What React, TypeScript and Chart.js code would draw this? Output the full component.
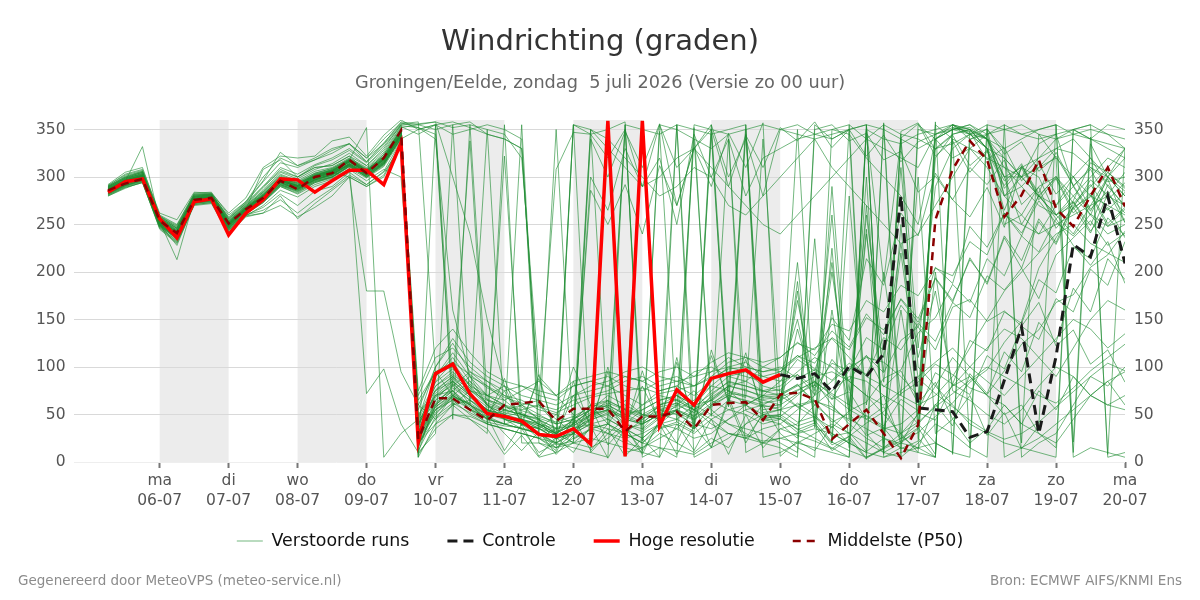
import React, { useEffect, useRef } from 'react';
import { Chart, registerables } from 'chart.js';

Chart.register(...registerables);
Chart.defaults.font.family = 'DejaVu Sans';

// Forecast steps: hours relative to maandag 06-07 00:00, every 6 hours
const forecastHours = [
  -18, -12, -6, 0, 6, 12, 18, 24, 30, 36, 42, 48, 54, 60, 66, 72, 78, 84, 90, 96,
  102, 108, 114, 120, 126, 132, 138, 144, 150, 156, 162, 168, 174, 180, 186, 192, 198, 204, 210, 216,
  222, 228, 234, 240, 246, 252, 258, 264, 270, 276, 282, 288, 294, 300, 306, 312, 318, 324, 330, 336,
];

// Day ticks along the time axis
const dayTicks = [0, 24, 48, 72, 96, 120, 144, 168, 192, 216, 240, 264, 288, 312, 336];
const weekdays = ['ma', 'di', 'wo', 'do', 'vr', 'za', 'zo', 'ma', 'di', 'wo', 'do', 'vr', 'za', 'zo', 'ma'];
const dates = ['06-07', '07-07', '08-07', '09-07', '10-07', '11-07', '12-07', '13-07', '14-07', '15-07', '16-07', '17-07', '18-07', '19-07', '20-07'];

// Direction ticks (degrees)
const directionTicks = [0, 50, 100, 150, 200, 250, 300, 350];

// Alternate days with a grey background (hours)
const shadedDays = [[0, 24], [48, 72], [96, 120], [144, 168], [192, 216], [240, 264], [288, 312]];

// High resolution run (stops after 15-07 00:00)
const highResolution = [
  284, 295, 298, 256, 236, 274, 277, 239, 262, 276, 298, 297, 284, 296, 307, 307, 292, 336, 21, 93,
  103, 72, 51, 48, 43, 29, 27, 35, 19, 359, 6, 359, 38, 76, 60, 88, 93, 97, 84, 92,
];

// Ensemble median
const medianP50 = [
  286, 293, 298, 254, 241, 276, 278, 251, 266, 278, 296, 287, 300, 304, 318, 304, 320, 349, 24, 67,
  67, 55, 44, 60, 62, 64, 43, 56, 56, 56, 32, 48, 48, 53, 35, 60, 62, 63, 44, 71,
  73, 66, 24, 40, 55, 30, 4, 39, 255, 308, 338, 318, 258, 281, 318, 267, 248, 280, 310, 269,
];

// Control run, shown from step 39 (15-07 00:00) onwards
const controlStartStep = 39;
const controlRun = [92, 88, 93, 74, 101, 90, 114, 280, 57, 55, 53, 26, 32, 86, 142, 30, 111, 229, 216, 280, 209];

// Perturbed ensemble members
const perturbedRuns: number[][] = [
  [288,297,303,255,243,279,280,252,268,282,298,292,303,307,318,308,322,350, 30,75,90,70,55,48,52,40,30,45,60,58,40,35,55,62,48,70,85,80,75, 70,82,60,45,30,55,70,20,35,330,345,350,330,265,310,300,260,275,315,305,290],
  [283,292,298,248,236,274,276,246,263,275,292,286,296,300,312,300,314,340, 15,90,110,85,60,45,40,35,25,30,50,65,30,20,40,55,35,60,75,70,65, 60,180,40,225,15,350,190,340,120,290,330,345,350,280,300,335,345,290,260,300,330],
  [290,300,305,258,246,281,282,256,272,290,306,300,310,312,322,312,330,355, 5,40,60,75,70,80,60,45,20,355,350,340,10,15,30,20,10,25,15,40,60, 30,15,5,350,345,320,300,280,250,340,355,345,330,300,250,280,260,240,270,300,280],
  [280,288,295,245,230,270,272,240,258,262,270,258,268,280,300,290,300,335, 45,100,125,95,80,70,65,55,50,70,75,80,90,85,75,80,95,100,90,85,100, 95,112,98,86,104,92,131,118,146,127,168,152,196,181,204,172,218,236,254,228,241],
  [292,305,310,260,250,283,284,260,274,300,320,312,320,330,335,320,335,358, 355,350,355,358,345,340,330,60,45,30,20,40,65,50,45,60,75,55,40,35,30, 20,10,355,340,350,5,15,25,40,60,80,90,70,50,60,30,15,350,340,355,350],
  [285,294,300,252,238,276,278,248,265,278,294,288,298,302,315,304,318,346, 20,55,65,50,40,35,30,25,15,20,35,40,25,10,355,350,340,330,345,10,20, 15,5,350,355,338,346,318,327,284,301,276,310,292,318,271,289,246,268,297,281,305],
  [287,296,301,254,242,277,279,251,266,279,297,294,301,308,316,306,319,344, 35,70,80,65,50,30,12,32,8,28,60,18,38,8,45,20,62,15,68,25,50, 48,62,50,30,20,10,5,15,355,340,320,330,345,355,5,20,30,60,90,80,100],
  [281,290,296,250,228,272,275,244,260,265,276,262,276,288,302,292,305,330, 60,95,100,80,70,60,55,60,55,65,70,75,85,90,80,85,90,95,100,105,90, 85,92,78,104,96,131,118,165,142,205,188,248,226,262,238,281,256,274,243,268,236],
  [289,298,304,256,245,280,281,254,270,285,303,296,306,310,320,310,326,352, 355,358,352,355,350,345,320,90,70,50,35,30,20,15,25,35,55,45,30,25,20, 35,40,60,75,90,85,70,60,40,20,10,350,330,320,300,310,330,340,320,300,280],
  [284,293,299,251,235,275,277,249,264,276,293,287,297,303,314,303,316,343, 10,65,85,60,45,40,45,38,28,35,50,55,45,40,60,65,55,75,90,95,80, 75,58,47,36,54,63,88,97,136,152,187,168,214,196,238,221,256,228,207,232,188],
  [286,295,332,253,213,276,278,250,266,308,318,300,310,312,322,306,324,349, 25,50,70,60,45,55,60,50,40,45,55,45,35,40,50,45,60,65,55,60,70, 65,170,80,210,60,245,30,160,50,80,110,90,70,60,40,30,20,45,70,60,55],
  [282,291,297,249,234,273,274,245,261,273,290,283,294,299,311,300,312,342, 40,80,95,75,65,55,50,45,35,40,55,60,50,55,65,70,60,80,95,90,85, 90,150,70,200,75,260,110,230,110,180,80,100,120,140,130,110,90,120,150,170,160],
  [291,303,308,262,255,284,283,262,278,310,322,320,322,338,342,322,344,360, 350,355,345,350,355,350,340,20,15,30,300,265,330,290,320,250,345,300,340,280,320, 330,340,345,350,355,340,330,320,310,345,350,352,340,300,300,320,340,350,355,345,330],
  [285,296,302,253,239,277,279,249,267,281,299,289,299,306,317,305,320,347, 30,85,105,80,60,50,40,30,20,15,10,5,355,350,345,355,5,15,25,40,50, 45,35,25,15,5,355,350,340,330,340,350,355,340,300,310,320,330,325,310,295,300],
  [288,294,300,251,241,277,277,250,266,277,295,290,300,304,314,304,317,345, 20,40,50,45,35,8,28,5,10,48,12,35,6,25,5,40,12,45,8,50,15, 35,28,22,14,27,41,53,72,84,103,92,78,71,96,124,139,168,176,205,218,243],
  [280,289,294,247,232,271,273,243,259,270,286,279,290,296,308,296,308,300, 70,110,120,100,85,75,80,70,65,80,85,90,80,75,85,90,80,95,110,100,95, 100,88,97,66,74,45,58,24,36,8,352,347,318,331,296,314,282,301,266,285,252],
  [287,297,302,255,240,278,279,251,267,280,297,291,302,306,317,306,320,349, 15,60,80,95,85,70,58,45,30,355,10,30,45,60,70,65,55,40,30,25,35, 40,55,70,85,100,110,105,90,70,320,345,350,340,310,290,270,260,280,300,320,310],
  [283,291,296,249,237,274,276,247,262,274,291,285,295,300,311,300,313,341, 50,75,85,70,55,50,45,40,30,40,50,55,45,40,50,55,45,60,70,65,60, 55,60,65,55,45,35,25,15,10,5,355,345,340,320,300,280,270,290,310,300,285],
  [290,301,306,258,248,282,282,258,274,296,326,312,318,328,335,316,336,356, 358,95,70,55,48,40,35,10,20,35,40,30,25,30,40,35,25,30,45,55,60, 70,80,90,95,85,70,50,30,10,355,340,330,320,310,300,280,260,270,290,310,330],
  [286,295,301,253,241,276,278,250,266,279,296,289,299,304,316,305,318,345, 25,65,75,55,45,40,35,30,25,35,45,50,35,25,40,355,35,345,60,355,45, 50,38,44,21,12,5,14,22,31,48,62,84,97,126,148,204,236,268,279,305,288],
  [284,292,298,250,236,274,277,247,264,276,293,287,297,302,313,302,315,344, 35,90,115,90,70,65,75,85,70,80,85,80,70,60,75,80,70,85,100,95,90, 95,110,120,130,110,90,80,70,60,70,90,120,150,180,200,220,240,250,230,220,210],
  [289,299,303,257,244,279,281,253,269,284,302,295,304,309,319,309,324,351, 5,355,45,355,65,60,50,40,30,20,15,25,40,55,65,70,60,50,40,30,20, 25,20,15,10,5,350,340,335,345,350,355,350,340,330,340,350,355,345,340,335,330],
  [282,290,295,247,233,272,274,244,260,268,282,270,285,290,305,292,306,338, 55,100,130,105,90,80,70,65,60,70,80,85,95,100,90,85,80,90,105,110,100, 110,125,118,145,138,170,158,186,175,204,196,232,218,262,241,275,252,238,261,248,256],
  [288,296,302,254,242,278,280,252,267,281,299,293,302,307,317,307,321,348, 18,55,68,62,50,75,42,88,28,70,40,95,38,80,42,105,40,112,65,108,55, 58,140,75,260,45,300,20,250,40,200,75,65,50,40,55,80,100,90,70,60,70],
  [285,294,299,251,239,275,278,249,265,278,295,288,298,303,314,304,317,345, 40,70,75,60,50,48,45,40,35,38,48,55,48,40,50,55,48,62,72,70,62, 65,75,85,70,55,45,35,40,55,340,350,355,345,280,290,310,320,300,280,270,260],
  [291,302,307,259,249,282,283,257,273,295,315,310,318,325,335,320,340,357, 352,345,60,45,30,355,20,20,10,20,25,20,15,10,5,355,350,345,350,355,5, 10,20,30,40,30,20,10,5,350,345,355,350,330,260,250,240,250,260,270,280,270],
  [286,296,301,254,240,277,278,251,266,280,297,290,300,305,316,305,319,346, 28,62,78,65,52,46,43,36,24,32,44,52,40,32,46,52,44,58,70,64,58, 60,72,81,66,97,112,94,128,142,118,163,171,148,159,143,168,122,139,103,118,84],
  [283,293,298,250,237,274,276,246,262,274,291,284,294,300,311,301,313,342, 45,80,92,78,62,55,50,46,40,45,55,62,55,48,58,62,55,68,80,75,70, 72,81,64,58,43,49,38,66,54,94,82,128,117,158,146,192,178,226,214,257,238],
  [289,299,305,257,246,280,282,255,271,288,308,300,312,318,328,315,332,354, 352,340,160,90,60,45,35,30,20,30,40,35,30,20,15,5,355,350,345,350,355, 350,345,340,345,350,355,5,10,15,20,10,5,355,350,345,340,345,350,355,5,10],
  [284,293,299,251,238,275,277,248,264,277,294,287,297,302,313,302,315,343, 22,58,72,60,48,12,40,6,26,10,38,4,36,12,40,8,38,15,64,20,52, 55,42,48,27,31,11,25,19,52,44,82,71,112,98,143,129,172,158,203,186,232],
  [287,297,302,255,241,277,279,251,268,281,298,291,301,306,318,307,320,348, 32,68,82,68,54,48,44,38,28,34,46,54,350,34,48,54,46,355,74,68,340, 62,210,40,290,55,240,95,310,100,80,60,40,30,20,15,25,40,55,70,85,95],
  [282,291,296,248,235,273,275,245,261,273,290,282,292,298,309,299,311,339, 65,95,105,92,78,68,62,58,52,60,68,72,75,78,72,76,80,88,98,100,95, 98,112,104,131,118,152,139,171,147,193,168,215,187,236,204,253,229,268,241,282,262],
  [290,299,305,257,246,280,281,254,270,286,305,298,308,314,325,312,328,353, 345,355,80,338,40,322,45,30,25,40,286,250,292,240,312,270,331,290,346,310,357, 6,22,12,38,19,354,8,341,356,322,338,305,327,291,314,276,298,262,281,248,266],
  [286,295,300,253,240,276,278,250,266,279,296,290,299,304,316,305,318,345, 12,48,62,52,42,38,36,30,18,22,350,40,355,22,348,42,32,350,58,345,44, 46,31,39,12,24,3,357,27,14,61,38,93,72,116,95,147,126,183,158,214,192],
  [285,293,300,251,238,275,277,249,265,277,295,288,298,303,314,303,316,344, 38,72,88,72,58,52,48,42,32,38,50,58,46,350,52,58,340,64,78,350,66, 68,76,84,72,60,48,36,30,42,58,72,86,100,90,80,70,62,78,96,110,124],
  [288,298,303,256,243,279,280,253,268,283,300,293,303,308,319,308,322,350, 8,35,50,48,40,35,30,25,12,355,345,350,358,5,15,12,8,20,30,28,22, 25,30,35,30,20,10,355,345,340,330,335,345,355,5,15,10,5,350,340,330,320],
  [281,289,294,246,231,271,273,242,259,262,280,256,272,286,300,290,302,336, 75,120,140,115,95,85,80,75,70,85,90,95,90,85,95,100,90,105,115,110,105, 110,126,112,138,121,156,134,172,151,194,170,213,189,238,212,256,231,274,249,292,268],
  [287,296,301,254,242,277,279,251,267,280,297,291,301,306,317,306,319,347, 24,58,70,58,46,88,38,92,24,85,36,100,34,96,38,110,36,118,62,115,48, 50,190,36,160,52,270,84,220,88,72,58,44,32,24,30,42,58,74,90,104,96],
  [283,292,297,249,236,273,275,246,262,275,292,285,295,300,312,301,314,341, 48,84,98,82,66,58,54,48,42,48,58,64,56,50,60,66,58,72,84,80,74, 76,92,71,108,86,112,79,96,62,84,45,70,28,52,14,38,355,21,342,8,331],
  [290,300,306,259,247,281,282,256,272,290,310,303,313,320,330,316,334,355, 356,358,300,240,150,80,40,25,35,20,340,300,348,310,356,270,330,350,290,344,310, 352,338,358,331,350,322,344,316,337,345,352,348,340,288,309,279,301,272,292,265,284],
  [286,295,300,253,240,276,278,250,266,279,296,290,300,305,316,305,318,346, 18,52,66,56,46,40,355,32,350,24,34,358,32,345,36,42,352,48,340,54,46, 48,34,41,18,27,4,14,348,357,329,344,312,328,296,311,281,299,266,283,251,268],
  [284,294,299,252,238,275,277,248,265,277,294,288,297,303,313,303,316,344, 42,76,90,76,60,54,50,44,36,42,52,60,50,42,54,60,52,66,80,76,68, 70,58,64,42,51,28,36,14,22,358,8,339,351,324,337,306,322,291,308,276,294],
  [285,294,300,252,240,276,278,250,266,279,296,290,300,305,300,180,180,95, 60,45,70,85,70,60,45,35,50,40,55,70,60,50,45,55,65,80,75,60,45, 40,25,235,20,280,60,200,70,300,30,45,20,35,60,40,75,55,90,70,85,60],
  [287,296,301,254,241,277,279,251,267,280,297,291,301,306,312,72,98,40, 10,30,355,60,350,40,35,30,15,25,35,40,30,20,35,40,30,45,55,50,40, 45,350,40,20,355,30,10,345,25,5,340,15,350,330,20,345,320,10,335,300,320],
  [289,298,304,256,244,279,281,253,269,284,301,294,304,309,318,352,5,30, 45,60,75,90,80,65,50,40,30,45,60,65,55,45,60,70,55,65,80,85,75, 80,95,110,100,85,70,60,75,90,105,120,100,85,70,90,110,130,150,140,120,135],
  [286,296,301,254,241,277,279,251,267,280,297,291,301,306,317,306,319,346, 40,70,85,70,55,45,40,35,25,30,45,340,320,300,280,290,310,300,270,260,280, 300,320,340,310,290,270,250,230,240,270,300,330,310,280,260,240,270,300,320,290,270],
  [284,293,299,251,238,275,277,248,264,277,294,287,297,302,313,302,315,343, 30,55,70,60,50,45,40,35,30,40,350,330,310,290,300,320,330,310,290,270,250, 240,260,280,300,320,340,355,5,20,40,30,15,5,355,345,350,355,5,15,10,5],
  [288,297,302,255,243,278,280,252,268,282,299,292,302,307,318,307,321,349, 20,45,60,65,55,50,60,65,308,347,345,320,350,290,355,310,330,355,300,340,280, 350,355,345,340,350,355,10,20,15,5,355,340,345,350,355,345,340,345,350,345,340],
  [283,291,297,250,236,274,276,247,263,275,292,286,296,301,312,302,314,340, 350,355,358,352,345,340,330,60,40,100,60,40,30,45,55,50,40,35,45,60,70, 85,108,96,152,128,214,186,262,238,304,276,258,289,247,312,283,326,291,264,298,252],
  [286,295,301,253,240,276,278,250,266,279,296,289,299,304,316,305,318,345, 25,60,75,55,40,35,30,25,20,30,40,45,35,25,40,45,35,50,65,60,50, 55,70,85,60,40,25,15,30,50,340,350,345,330,250,260,290,300,280,260,240,250],
];

const runColor = 'rgba(30, 140, 50, 0.62)';

const toPoints = (values: (number | null)[], startStep = 0) =>
  values
    .map((v, i) => ({ x: forecastHours[startStep + i], y: v }))
    .filter((p) => p.x !== undefined);

// Grey background for alternating days, drawn underneath grid and lines
const dayBands = {
  id: 'dayBands',
  beforeDraw(chart: any) {
    const { ctx, chartArea, scales } = chart;
    const x = scales.x;
    ctx.save();
    ctx.fillStyle = '#ececec';
    for (const [a, b] of shadedDays) {
      const x0 = x.getPixelForValue(a);
      const x1 = x.getPixelForValue(b);
      ctx.fillRect(x0, chartArea.top, x1 - x0, chartArea.bottom - chartArea.top);
    }
    ctx.restore();
  },
};

const tickFont = { family: 'DejaVu Sans', size: 15.5 };

export default function App() {
  const canvasRef = useRef<HTMLCanvasElement>(null);

  useEffect(() => {
    const canvas = canvasRef.current;
    if (!canvas) return;

    const runSets = perturbedRuns.map((vals) => ({
      label: 'Verstoorde runs',
      data: toPoints(vals),
      borderColor: runColor,
      backgroundColor: runColor,
      borderWidth: 1,
      pointRadius: 0,
      tension: 0,
      order: 3,
      yAxisID: 'y',
    }));

    const controlIndex = runSets.length;
    const datasets: any[] = [
      ...runSets,
      {
        label: 'Controle',
        data: toPoints(controlRun, controlStartStep),
        borderColor: '#1a1a1a',
        backgroundColor: '#1a1a1a',
        borderWidth: 3,
        borderDash: [10, 6],
        pointRadius: 0,
        order: 1,
        yAxisID: 'y',
      },
      {
        label: 'Hoge resolutie',
        data: toPoints(highResolution),
        borderColor: '#ff0000',
        backgroundColor: '#ff0000',
        borderWidth: 3.5,
        pointRadius: 0,
        order: 2,
        yAxisID: 'y',
      },
      {
        label: 'Middelste (P50)',
        data: toPoints(medianP50),
        borderColor: '#8b0000',
        backgroundColor: '#8b0000',
        borderWidth: 2.5,
        borderDash: [8, 6],
        pointRadius: 0,
        order: 0,
        yAxisID: 'y',
      },
    ];
    const legendIndexes = [0, controlIndex, controlIndex + 1, controlIndex + 2];

    const setDirectionTicks = (scale: any) => {
      scale.ticks = directionTicks.map((v) => ({ value: v }));
    };

    const chart = new Chart(canvas, {
      type: 'line',
      data: { datasets },
      plugins: [dayBands],
      options: {
        responsive: false,
        maintainAspectRatio: false,
        devicePixelRatio: 1,
        animation: false,
        events: [],
        layout: { padding: { top: 120, bottom: 40.3, left: 0, right: 0 } },
        plugins: {
          title: { display: false },
          tooltip: { enabled: false },
          legend: {
            position: 'bottom',
            // empty title with negative padding pulls the legend row up closer to the axis labels
            title: {
              display: true,
              text: '',
              font: { size: 10, lineHeight: 1 },
              padding: { top: -25.7, bottom: 0 },
            },
            labels: {
              usePointStyle: true,
              pointStyle: 'line',
              pointStyleWidth: 26,
              padding: 38,
              color: '#111111',
              font: { family: 'DejaVu Sans', size: 17.4 },
              generateLabels: (c: any) =>
                legendIndexes.map((i) => {
                  const ds = c.data.datasets[i];
                  return {
                    text: ds.label,
                    strokeStyle: ds.borderColor,
                    fillStyle: ds.borderColor,
                    lineWidth: ds.borderWidth,
                    lineDash: ds.borderDash || [],
                    lineCap: 'butt',
                    pointStyle: 'line',
                    fontColor: '#111111',
                    hidden: false,
                    datasetIndex: i,
                  };
                }),
            },
          },
        },
        scales: {
          x: {
            type: 'linear',
            min: -30,
            max: 336,
            afterBuildTicks: (scale: any) => {
              scale.ticks = dayTicks.map((v) => ({ value: v }));
            },
            afterFit: (scale: any) => {
              scale.height = 48;
            },
            grid: {
              drawOnChartArea: false,
              drawTicks: true,
              tickLength: 6,
              tickColor: '#777777',
              tickWidth: 2,
            },
            border: { display: false },
            ticks: {
              autoSkip: false,
              maxRotation: 0,
              padding: 3,
              color: '#555555',
              font: { ...tickFont, lineHeight: 1.3 },
              callback: (value: any) => {
                const d = Math.round(Number(value) / 24);
                return [weekdays[d], dates[d]];
              },
            },
          },
          y: {
            type: 'linear',
            position: 'left',
            min: 0,
            max: 360,
            afterBuildTicks: setDirectionTicks,
            afterFit: (scale: any) => {
              scale.width = 73.5;
            },
            grid: {
              color: (ctx: any) => (ctx.tick && ctx.tick.value === 0 ? '#eeeeee' : '#d9d9d9'),
              lineWidth: 1,
              drawTicks: false,
            },
            border: { display: false },
            ticks: { padding: 8, color: '#555555', font: tickFont },
          },
          y2: {
            type: 'linear',
            position: 'right',
            min: 0,
            max: 360,
            afterBuildTicks: setDirectionTicks,
            afterFit: (scale: any) => {
              scale.width = 75;
            },
            grid: { drawOnChartArea: false, drawTicks: false },
            border: { display: false },
            ticks: { padding: 9, color: '#555555', font: tickFont },
          },
        },
      },
    } as any);

    return () => chart.destroy();
  }, []);

  return (
    <div
      style={{
        position: 'fixed',
        left: 0,
        top: 0,
        width: 1200,
        height: 600,
        background: '#ffffff',
        overflow: 'hidden',
        fontFamily: "'DejaVu Sans', sans-serif",
      }}
    >
      <canvas
        ref={canvasRef}
        width={1200}
        height={600}
        style={{ position: 'absolute', left: 0, top: 0, width: 1200, height: 600 }}
      />
      <div
        style={{
          position: 'absolute',
          left: 0,
          top: 25.5,
          width: 1200,
          textAlign: 'center',
          fontSize: 29,
          lineHeight: '29px',
          color: '#333333',
        }}
      >
        Windrichting (graden)
      </div>
      <div
        style={{
          position: 'absolute',
          left: 0,
          top: 74.4,
          width: 1200,
          textAlign: 'center',
          fontSize: 17.7,
          lineHeight: '17.7px',
          color: '#666666',
          whiteSpace: 'pre',
        }}
      >
        {'Groningen/Eelde, zondag  5 juli 2026 (Versie zo 00 uur)'}
      </div>
      <div
        style={{
          position: 'absolute',
          left: 18,
          top: 573.6,
          fontSize: 13.5,
          lineHeight: '13.5px',
          color: '#8c8c8c',
          whiteSpace: 'pre',
        }}
      >
        Gegenereerd door MeteoVPS (meteo-service.nl)
      </div>
      <div
        style={{
          position: 'absolute',
          right: 18,
          top: 573.6,
          fontSize: 13.5,
          lineHeight: '13.5px',
          color: '#8c8c8c',
          whiteSpace: 'pre',
        }}
      >
        Bron: ECMWF AIFS/KNMI Ens
      </div>
    </div>
  );
}
